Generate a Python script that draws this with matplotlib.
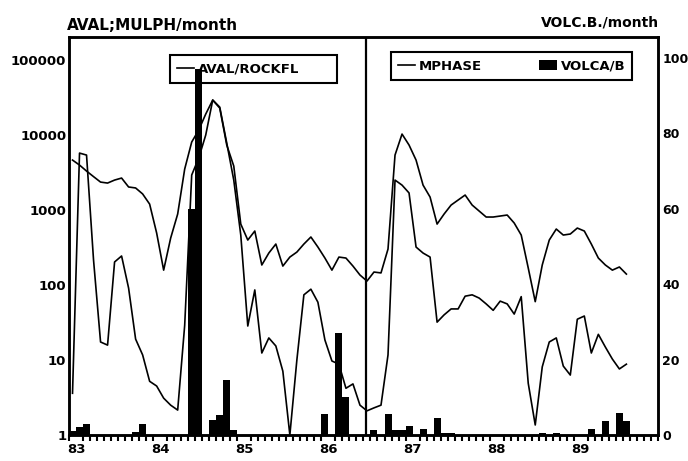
import numpy as np
import matplotlib.pyplot as plt
from matplotlib.patches import Patch
from matplotlib.lines import Line2D

# monthly values, month 0 = Jan 1983
months = np.arange(80) + 0.5

aval_rockfl = [4640, 3980, 3310, 2790, 2360, 2290, 2510, 2670, 2030, 1970,
               1640, 1200, 494, 158, 423, 885, 3520, 8070, 11660, 19050,
               29300, 22900, 7360, 3860, 650, 398, 525, 185, 267, 352,
               179, 236, 275, 352, 437, 321, 229, 158, 236, 229,
               179, 136, 113, 149, 145, 302, 5410, 10310, 7360, 4640,
               2150, 1490, 650, 885, 1166, 1360, 1585, 1166, 970, 807,
               807, 832, 858, 671, 464, 169, 60, 185, 398, 558,
               464, 479, 575, 525, 352, 229, 185, 158, 174, 140]

mphase = [3.6, 5750, 5410, 215, 17.4, 15.8, 203, 244, 91, 19,
          11.7, 5.2, 4.5, 3.1, 2.5, 2.15, 29, 2930, 4940, 10000,
          29300, 23600, 7820, 2510, 464, 28.4, 86, 12.4, 19.7, 15.4,
          7.1, 1.0, 10, 74, 88, 59, 18.5, 9.7, 8.8, 4.2,
          4.8, 2.5, 2.1, 2.3, 2.5, 11.7, 2510, 2150, 1690, 321,
          267, 236, 32, 40, 48, 48, 71, 74, 67, 56,
          46, 61, 56, 41, 70, 4.9, 1.36, 8.1, 17.4, 19.7,
          8.3, 6.3, 35, 38.6, 12.4, 22, 14.9, 10.3, 7.6, 8.8]

volca_month = [0, 1, 2, 9, 10, 17, 18, 20, 21, 22, 23, 36, 38, 39, 43,
               45, 46, 47, 48, 50, 52, 53, 54, 67, 69, 74, 76, 78, 79]
volca_count = [1, 2, 3, 0.7, 3, 60, 97, 4, 5.3, 14.5, 1.2, 5.5, 27, 10, 1.3,
               5.5, 1.3, 1.3, 2.5, 1.5, 4.5, 0.5, 0.5, 0.4, 0.4, 1.7, 3.7, 5.8, 3.7]

year_labels = ['83', '84', '85', '86', '87', '88', '89']
left_ticks = [1, 10, 100, 1000, 10000, 100000]
right_ticks = [0, 20, 40, 60, 80, 100]
divider_month = 42.3

font = dict(family='DejaVu Sans', weight='bold', size=9.5)
font_r = dict(family='DejaVu Sans', weight='bold', size=9)

fig = plt.figure(figsize=(6.88, 4.61), dpi=100)
ax = fig.add_axes([0.1003, 0.0564, 0.856, 0.8633])
ax.set_yscale('log')
ax.set_ylim(1, 2.03e5)
ax.set_xlim(0, 84)

ax.plot(months, aval_rockfl, color='black', lw=1.2)
ax.plot(months, mphase, color='black', lw=1.2)

ax2 = ax.twinx()
ax2.set_ylim(0, 105.6)
ax2.bar(np.array(volca_month) + 0.5, volca_count, width=1.0, color='black')
ax2.axvline(divider_month, color='black', lw=1.6)

# axes styling
for a in (ax, ax2):
    for s in a.spines.values():
        s.set_linewidth(1.8)
ax.set_yticks(left_ticks)
ax.set_yticklabels([str(t) for t in left_ticks], fontdict=font)
ax.yaxis.set_minor_locator(plt.NullLocator())
ax.tick_params(axis='y', length=0, pad=2)
ax2.set_yticks(right_ticks)
ax2.set_yticklabels([str(t) for t in right_ticks], fontdict=font_r)
ax2.tick_params(axis='y', length=0, pad=3)

ax.set_xticks(np.arange(len(year_labels)) * 12 + 1)
ax.set_xticklabels(year_labels, fontdict=font)
ax.set_xticks(np.arange(0, 85), minor=True)
ax.tick_params(axis='x', which='major', length=0, pad=6)
ax.tick_params(axis='x', which='minor', direction='out', length=4, width=1.5)

# legends
h1 = [Line2D([], [], color='black', lw=1.2)]
leg1 = ax.legend(h1, ['AVAL/ROCKFL'], loc='center left', mode='expand',
                 bbox_to_anchor=(0.16, 0.879, 0.307, 0.081), prop=font,
                 fancybox=False, framealpha=1, edgecolor='black',
                 handlelength=1.3, handletextpad=0.3, borderpad=0.55)
leg1.get_frame().set_linewidth(1.5)
ax.add_artist(leg1)
h2 = [Line2D([], [], color='black', lw=1.2), Patch(facecolor='black')]
leg2 = ax.legend(h2, ['MPHASE', 'VOLCA/B'], loc='center left', mode='expand',
                 ncol=2, bbox_to_anchor=(0.535, 0.884, 0.433, 0.086), prop=font,
                 fancybox=False, framealpha=1, edgecolor='black',
                 handlelength=1.3, handletextpad=0.3, borderpad=0.55,
                 columnspacing=1.0)
leg2.get_frame().set_linewidth(1.5)

fig.text(67 / 688, 1 - 25 / 461, 'AVAL;MULPH/month', ha='left', va='center',
         family='DejaVu Sans', weight='bold', size=11)
fig.text(659 / 688, 1 - 22 / 461, 'VOLC.B./month', ha='right', va='center',
         family='DejaVu Sans', weight='bold', size=10)

fig.savefig('out.png', dpi=100)
